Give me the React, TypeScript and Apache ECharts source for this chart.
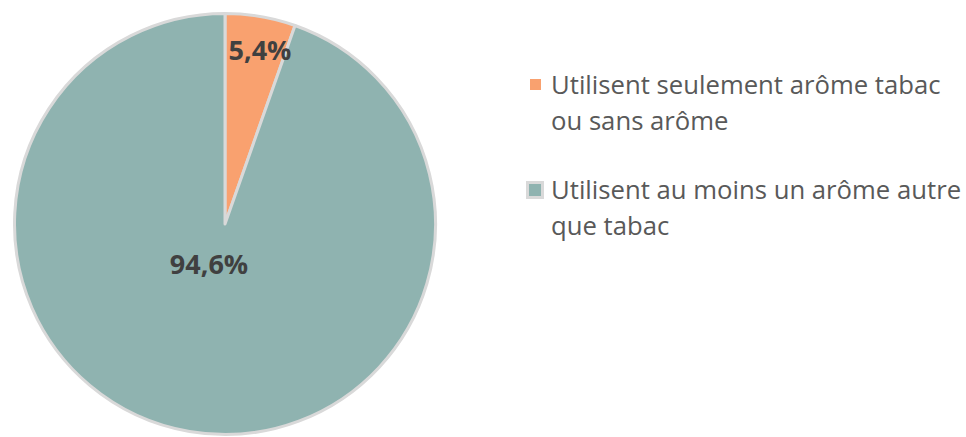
import React, { useEffect, useRef } from "react";
import * as echarts from "echarts";

const categories = [
  "Utilisent seulement arôme tabac\nou sans arôme",
  "Utilisent au moins un arôme autre\nque tabac",
];
const values = [5.4, 94.6];
const valueLabels = ["5,4%", "94,6%"];
const colors = ["#F9A16F", "#8FB3B0"];

export default function App() {
  const ref = useRef<HTMLDivElement>(null);
  useEffect(() => {
    const chart = echarts.init(ref.current!, null, { renderer: "svg" });
    const labelPos = [
      { x: 260, y: 49 },
      { x: 209, y: 263 },
    ];
    const legendY = [73, 178];
    const graphic: any[] = [];
    categories.forEach((name, i) => {
      if (i === 1) {
        graphic.push({
          type: "rect",
          shape: { x: 526, y: legendY[i] + 3, width: 18, height: 18 },
          style: { fill: "#D9D9D9" },
        });
        graphic.push({
          type: "rect",
          shape: { x: 529, y: legendY[i] + 6, width: 12, height: 12 },
          style: { fill: colors[i] },
        });
      } else {
        graphic.push({
          type: "rect",
          shape: { x: 530, y: legendY[i] + 6, width: 11, height: 11 },
          style: { fill: colors[i] },
        });
      }
      graphic.push({
        type: "text",
        x: 551,
        y: legendY[i] - 7,
        style: {
          text: name,
          fill: "#595959",
          font: '25.7px "Open Sans"',
          lineHeight: 36,
          verticalAlign: "top",
        },
      });
    });
    chart.setOption({
      animation: false,
      backgroundColor: "#FFFFFF",
      graphic,
      series: [
        {
          type: "pie",
          center: [225, 224],
          radius: 210.5,
          startAngle: 90,
          clockwise: true,
          itemStyle: { borderColor: "#D9D9D9", borderWidth: 3 },
          label: {
            show: true,
            position: "inside",
            formatter: (p: any) => valueLabels[p.dataIndex],
            fontFamily: "Open Sans",
            fontWeight: "bold",
            fontSize: 27,
            color: "#404040",
            align: "center",
            verticalAlign: "middle",
          },
          labelLayout: (p: any) => ({
            x: labelPos[p.dataIndex].x,
            y: labelPos[p.dataIndex].y,
            align: "center",
            verticalAlign: "middle",
          }),
          emphasis: { disabled: true },
          data: categories.map((c, i) => ({
            name: c,
            value: values[i],
            itemStyle: { color: colors[i] },
          })),
        },
      ],
    });
    return () => chart.dispose();
  }, []);
  return (
    <div
      ref={ref}
      style={{ position: "fixed", left: 0, top: 0, width: 966, height: 437 }}
    />
  );
}
